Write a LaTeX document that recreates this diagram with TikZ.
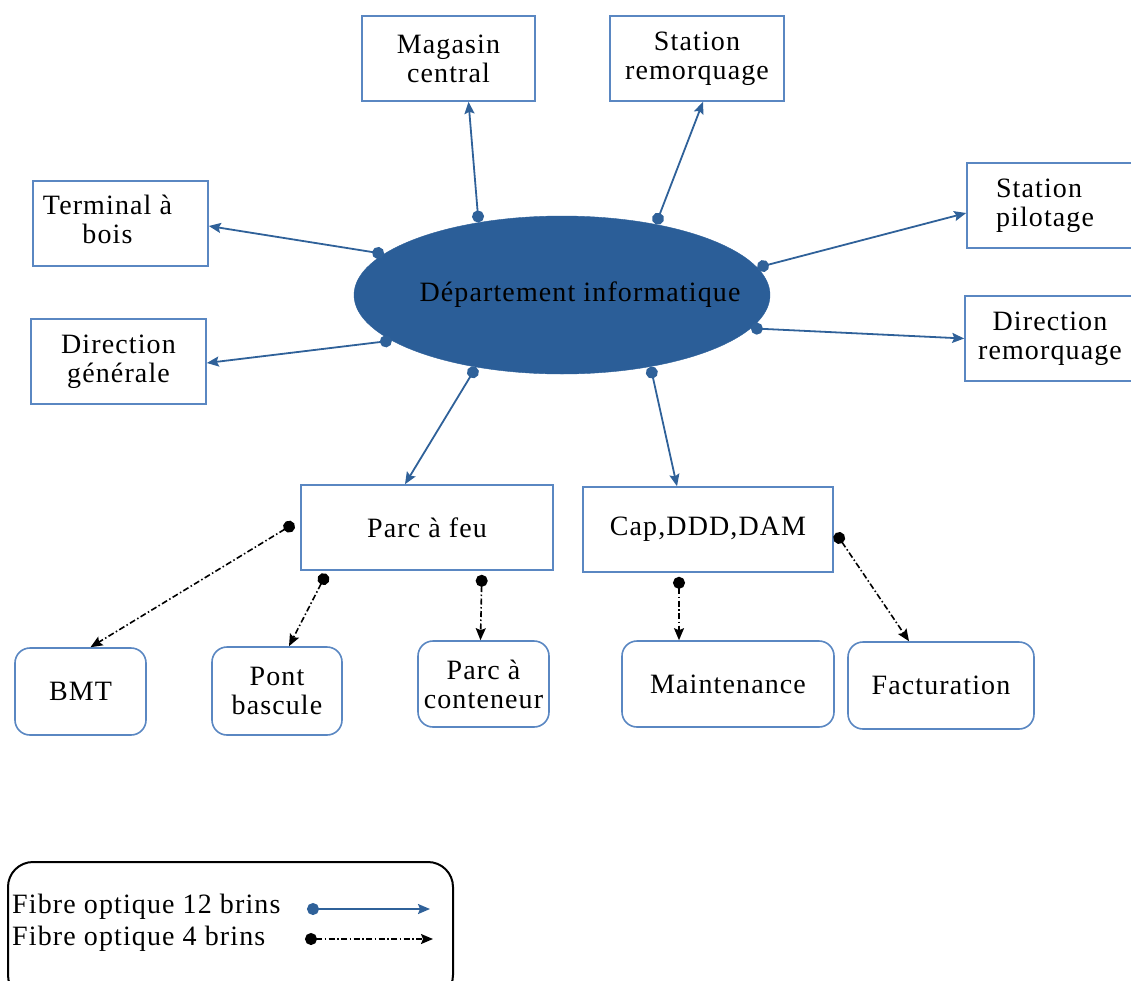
\documentclass[tikz,border=0pt]{standalone}
\usepackage{fontspec}
\setmainfont[LetterSpace=4]{Liberation Serif}
\usetikzlibrary{arrows.meta,shapes.geometric}
\definecolor{netblue}{HTML}{2F6199}
\definecolor{boxblue}{HTML}{5A87C2}
\definecolor{deptfill}{HTML}{2B5E98}
\begin{document}
\begin{tikzpicture}[x=1pt,y=-1pt,
  font=\fontsize{28}{29}\selectfont,
  every node/.style={inner sep=0pt},
  sitebox/.style={draw=boxblue,line width=1.6pt,fill=white,rectangle,
    align=center,minimum height=85pt},
  subbox/.style={draw=boxblue,line width=1.6pt,fill=white,rectangle,
    rounded corners=15pt,align=center},
  fibre12/.style={draw=netblue,line width=1.8pt,
    {Circle[length=12pt]}-{Stealth[length=12pt,width=10pt,inset=2pt]}},
  fibre4/.style={draw=black,line width=1.6pt,
    dash pattern=on 6pt off 2.5pt on 1.5pt off 2.5pt,
    {Circle[length=12pt]}-{Stealth[length=12pt,width=10pt,inset=2pt]}},
]
\useasboundingbox (0,0) rectangle (1131,980);

% central department
\node[ellipse,fill=deptfill,draw=deptfill,minimum width=416pt,minimum height=158pt]
  (dep) at (562,295) {\makebox[0pt]{\hspace*{36pt}Département informatique}};

% sites reached by 12-strand fibre
\node[sitebox,minimum width=173pt] (mag) at (448.5,58.5) {Magasin\\central};
\node[sitebox,minimum width=174pt] (sr) at (697,58.5) {Station\\remorquage};
\node[sitebox,minimum width=175pt] (term) at (120.5,223.5)
  {\makebox[0pt]{\hspace*{-26pt}\begin{tabular}{@{}c@{}}Terminal à\\bois\end{tabular}}};
\node[sitebox,minimum width=168pt,text width=110pt,align=left] (sp) at (1051,205.5) {Station\\pilotage};
\node[sitebox,minimum width=175pt] (dg) at (118.5,361.5) {Direction\\générale};
\node[sitebox,minimum width=170pt] (dr) at (1050,338.5) {Direction\\remorquage};
\node[sitebox,minimum width=252pt] (pf) at (427,527.5) {Parc à feu};
\node[sitebox,minimum width=250pt] (cap) at (708,529.5) {Cap,DDD,DAM};

% sites reached by 4-strand fibre
\node[subbox,minimum width=131pt,minimum height=87pt] (bmt) at (80.5,691.5) {BMT};
\node[subbox,minimum width=130pt,minimum height=88pt] (pont) at (277,691) {Pont\\bascule};
\node[subbox,minimum width=131pt,minimum height=86pt] (cont) at (483.5,684) {Parc à\\conteneur};
\node[subbox,minimum width=212pt,minimum height=86pt] (maint) at (728,684) {Maintenance};
\node[subbox,minimum width=186pt,minimum height=87pt] (fact) at (941,685.5) {Facturation};

% 12-strand links
\draw[fibre12] (dep.139.4) -- ([xshift=20pt]mag.south);
\draw[fibre12] (dep.37.1) -- ([xshift=6pt]sr.south);
\draw[fibre12] (dep.167) -- ([yshift=-2.5pt]term.east);
\draw[fibre12] (dep.8.8) -- ([yshift=-7.5pt]sp.west);
\draw[fibre12] (dep.195.3) -- ([yshift=-1.5pt]dg.east);
\draw[fibre12] (dep.350.1) -- (dr.west);
\draw[fibre12] (dep.220.8) -- ([xshift=-22pt]pf.north);
\draw[fibre12] (dep.321.4) -- ([xshift=-31pt]cap.north);

% 4-strand links
\draw[fibre4] ([xshift=-6pt,yshift=4pt]pf.west) -- ([xshift=10pt]bmt.north);
\draw[fibre4] ([xshift=26pt,yshift=-3pt]pf.south west) -- ([xshift=12pt]pont.north);
\draw[fibre4] ([xshift=-72pt,yshift=-4pt]pf.south east) -- ([xshift=-3pt]cont.north);
\draw[fibre4] ([xshift=-29pt,yshift=-4pt]cap.south) -- ([xshift=-49pt]maint.north);
\draw[fibre4] ([xshift=2pt,yshift=-3.5pt]cap.east) -- ([xshift=-32pt]fact.north);

% legend
\draw[black,line width=2pt,rounded corners=25pt] (8,862) rectangle (453,1000);
\node[anchor=west] (leg12) at (12,907) {Fibre optique 12 brins};
\node[anchor=west] (leg4) at (12,939) {Fibre optique 4 brins};
\coordinate (l12a) at (307,909);
\coordinate (l12b) at (430,909);
\coordinate (l4a) at (305,939);
\coordinate (l4b) at (433,939);
\draw[fibre12] (l12a) -- (l12b);
\draw[fibre4] (l4a) -- (l4b);
\end{tikzpicture}
\end{document}
